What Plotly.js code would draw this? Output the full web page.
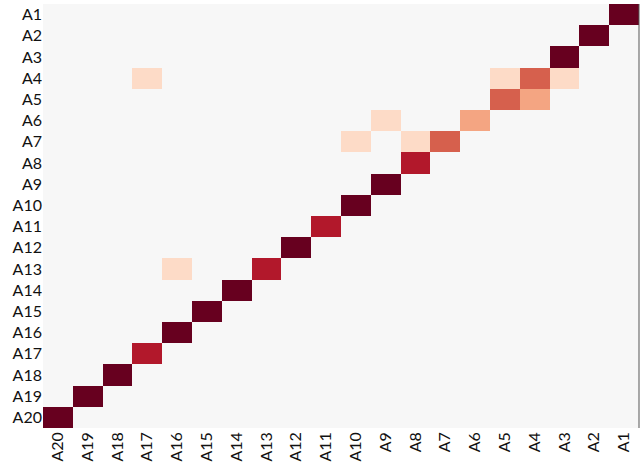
<!DOCTYPE html>
<html>
<head>
<meta charset="utf-8">
<script src="https://cdn.plot.ly/plotly-3.0.1.min.js"></script>
<style>
  html, body { margin: 0; padding: 0; background: #ffffff; }
  #chart { width: 644px; height: 467px; }
</style>
</head>
<body>
<div id="chart"></div>
<script>
// Row labels (top to bottom) and column labels (left to right)
const rowLabels = ["A1","A2","A3","A4","A5","A6","A7","A8","A9","A10",
                   "A11","A12","A13","A14","A15","A16","A17","A18","A19","A20"];
const colLabels = ["A20","A19","A18","A17","A16","A15","A14","A13","A12","A11",
                   "A10","A9","A8","A7","A6","A5","A4","A3","A2","A1"];

// Non-empty cells: row, column and value (all other cells are 0)
const cellRows = ["A1","A2","A3",
                  "A4","A4","A4","A4",
                  "A5","A5",
                  "A6","A6",
                  "A7","A7","A7",
                  "A8","A9","A10","A11","A12",
                  "A13","A13",
                  "A14","A15","A16","A17","A18","A19","A20"];
const cellCols = ["A1","A2","A3",
                  "A17","A5","A4","A3",
                  "A5","A4",
                  "A9","A6",
                  "A10","A8","A7",
                  "A8","A9","A10","A11","A12",
                  "A16","A13",
                  "A14","A15","A16","A17","A18","A19","A20"];
const cellValues = [1.0, 1.0, 1.0,
                    0.2, 0.2, 0.6, 0.2,
                    0.6, 0.4,
                    0.2, 0.4,
                    0.2, 0.2, 0.6,
                    0.8, 1.0, 1.0, 0.8, 1.0,
                    0.2, 0.8,
                    1.0, 1.0, 1.0, 0.8, 1.0, 1.0, 1.0];

// Build the full matrix
const z = rowLabels.map(() => colLabels.map(() => 0));
cellValues.forEach((v, i) => {
  const r = rowLabels.indexOf(cellRows[i]);
  const c = colLabels.indexOf(cellCols[i]);
  z[r][c] = v;
});

// Stepped red scale
const colorscale = [
  [0.0, "#f7f7f7"], [0.1, "#f7f7f7"],
  [0.1, "#fddbc7"], [0.3, "#fddbc7"],
  [0.3, "#f4a582"], [0.5, "#f4a582"],
  [0.5, "#d6604d"], [0.7, "#d6604d"],
  [0.7, "#b2182b"], [0.9, "#b2182b"],
  [0.9, "#67001f"], [1.0, "#67001f"]
];

const trace = {
  type: "heatmap",
  x: colLabels,
  y: rowLabels,
  z: z,
  zmin: 0,
  zmax: 1,
  colorscale: colorscale,
  showscale: false,
  hoverongaps: false
};

const tickFont = { family: "Lato, 'Open Sans', sans-serif", size: 16, color: "#111111" };

const layout = {
  width: 644,
  height: 467,
  margin: { l: 43, r: 5, t: 4, b: 39 },
  paper_bgcolor: "#ffffff",
  plot_bgcolor: "#f7f7f7",
  xaxis: {
    type: "category",
    tickangle: -90,
    tickfont: tickFont,
    showgrid: false,
    zeroline: false,
    ticks: "",
    fixedrange: true
  },
  yaxis: {
    type: "category",
    autorange: "reversed",
    tickfont: tickFont,
    showgrid: false,
    zeroline: false,
    ticks: "",
    fixedrange: true
  },
  shapes: [{
    type: "line", xref: "paper", yref: "paper",
    x0: 1, x1: 1, y0: 0, y1: 1,
    line: { color: "#555555", width: 1 }
  }]
};

Plotly.newPlot("chart", [trace], layout, { displayModeBar: false, staticPlot: true });
</script>
</body>
</html>
